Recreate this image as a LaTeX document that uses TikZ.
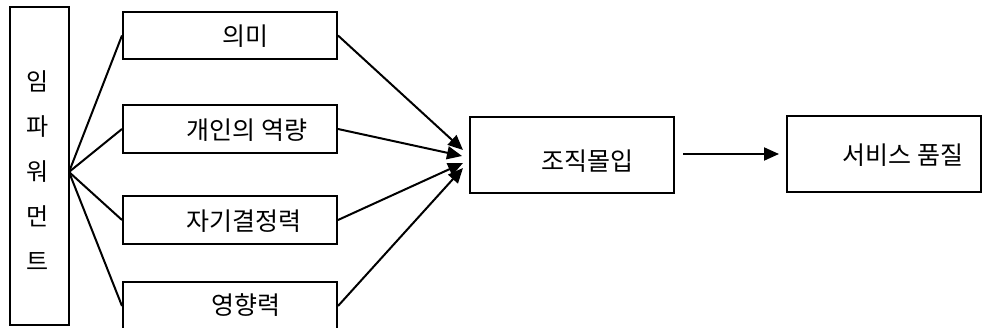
\documentclass[tikz,border=0pt]{standalone}
\usepackage{fontspec}
\newfontfamily\kr{Noto Sans CJK KR}
\usetikzlibrary{arrows.meta}
\begin{document}
\begin{tikzpicture}[x=1pt,y=-1pt,
  box/.style={draw,line width=2pt,inner sep=0pt},
  txt/.style={font=\kr\fontsize{25}{28}\selectfont,inner sep=0pt},
  ln/.style={line width=2pt},
  arr/.style={line width=2pt,-{Triangle[length=15pt,width=13pt]}}]
\useasboundingbox (0,0) rectangle (983,328);
% left box
\node[box,minimum width=59pt,minimum height=318pt] (emp) at (39.5,166) {};
\node[txt,align=center,font=\kr\fontsize{24}{45}\selectfont] (empt) at (38,171) {임\\파\\워\\먼\\트};
% four boxes
\node[box,minimum width=214pt,minimum height=47pt] (b1) at (230,35.5) {};
\node[box,minimum width=214pt,minimum height=48pt] (b2) at (230,129) {};
\node[box,minimum width=214pt,minimum height=48pt] (b3) at (230,220) {};
\node[box,minimum width=214pt,minimum height=48pt] (b4) at (230,306) {};
\node[txt] (t1) at (245,36) {의미};
\node[txt] (t2) at (247,130) {개인의 역량};
\node[txt] (t3) at (244,221) {자기결정력};
\node[txt] (t4) at (246,305) {영향력};
% right boxes
\node[box,minimum width=204pt,minimum height=76pt] (org) at (572,155) {};
\node[txt] (orgt) at (587,161) {조직몰입};
\node[box,minimum width=194pt,minimum height=76pt] (svc) at (884,154) {};
\node[txt] (svct) at (903,155) {서비스 품질};
% fan
\coordinate (fan) at (69,172);
\draw[ln] (fan) -- (b1.west);
\draw[ln] (fan) -- (b2.west);
\draw[ln] (fan) -- (b3.west);
\draw[ln] (fan) -- (b4.west);
% converging arrows
\coordinate (e1) at (463,150);
\coordinate (e2) at (462,156);
\coordinate (e3) at (463,163);
\coordinate (e4) at (463,168);
\draw[arr] (b1.east) -- (e1);
\draw[arr] (b2.east) -- (e2);
\draw[arr] (b3.east) -- (e3);
\draw[arr] (b4.east) -- (e4);
% main arrow
\draw[arr,shorten <=8pt,shorten >=7pt] (org.east |- svc.west) -- (svc.west);
\end{tikzpicture}
\end{document}
